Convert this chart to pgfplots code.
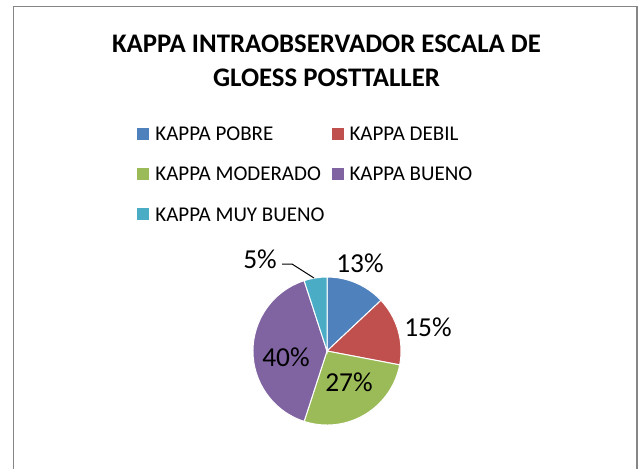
\documentclass[border=0pt]{standalone}
\usepackage{pgfplots}
\pgfplotsset{compat=1.18}
\usepackage{fontspec}
\setmainfont{Carlito}

\definecolor{pieBlue}{HTML}{4F81BD}
\definecolor{pieRed}{HTML}{C0504D}
\definecolor{pieGreen}{HTML}{9BBB59}
\definecolor{piePurple}{HTML}{8064A2}
\definecolor{pieCyan}{HTML}{4BACC6}
\definecolor{frameGray}{HTML}{868686}

% one slice: from cumulative percent #1 to #2, clockwise from 12 o'clock
\newcommand{\pieslice}[3]{%
  \fill[#3, draw=white, line width=0.5pt] (axis cs:327,117)
    -- ++({90-3.6*#1}:37pt)
    arc[start angle={90-3.6*#1}, end angle={90-3.6*#2}, radius=37pt]
    -- cycle;}

\begin{document}
\begin{tikzpicture}
  \begin{axis}[
    x=0.5pt, y=0.5pt,
    xmin=0, xmax=640, ymin=0, ymax=468,
    hide axis, clip=false,
    legend columns=2,
    legend cell align={left},
    legend image code/.code={\fill[#1] (0pt,-3pt) rectangle (6pt,3pt);},
    legend style={
      at={(axis cs:137,341.5)}, anchor=north west,
      draw=none, fill=none, inner sep=0pt,
      font=\fontsize{10.5}{12}\selectfont,
      row sep=13.5pt,
      nodes={inner sep=0pt, text height=6.7pt, text depth=0pt},
      /tikz/every odd column/.append style={column sep=3pt},
      /tikz/every even column/.append style={column sep=3.5pt}
    }
  ]
    \addlegendimage{fill=pieBlue, draw=none}
    \addlegendentry{KAPPA POBRE}
    \addlegendimage{fill=pieRed, draw=none}
    \addlegendentry{KAPPA DEBIL}
    \addlegendimage{fill=pieGreen, draw=none}
    \addlegendentry{KAPPA MODERADO}
    \addlegendimage{fill=piePurple, draw=none}
    \addlegendentry{KAPPA BUENO}
    \addlegendimage{fill=pieCyan, draw=none}
    \addlegendentry{KAPPA MUY BUENO}

    \pieslice{0}{13}{pieBlue}
    \pieslice{13}{28}{pieRed}
    \pieslice{28}{55}{pieGreen}
    \pieslice{55}{95}{piePurple}
    \pieslice{95}{100}{pieCyan}

    \draw[black, line width=0.5pt] (axis cs:282,204) -- (axis cs:292,204) -- (axis cs:314,190);

    \begin{scope}[every node/.style={font=\fontsize{13.7}{15}\selectfont}]
      \node at (axis cs:360,205) {13\%};
      \node at (axis cs:428,141) {15\%};
      \node at (axis cs:349,86) {27\%};
      \node at (axis cs:286,111) {40\%};
      \node at (axis cs:260,209) {5\%};
    \end{scope}

    \node[font=\bfseries\fontsize{13.4}{15}\selectfont] at (axis cs:326.5,424) {KAPPA INTRAOBSERVADOR ESCALA DE};
    \node[font=\bfseries\fontsize{13.4}{15}\selectfont] at (axis cs:326.5,390.5) {GLOESS POSTTALLER};

    \draw[frameGray, line width=0.8pt]
      (axis cs:13.5,-20) -- (axis cs:13.5,461.5) -- (axis cs:637,461.5) -- (axis cs:637,-20);
  \end{axis}
  \pgfresetboundingbox
  \path (current axis.south west) rectangle (current axis.north east);
\end{tikzpicture}
\end{document}
